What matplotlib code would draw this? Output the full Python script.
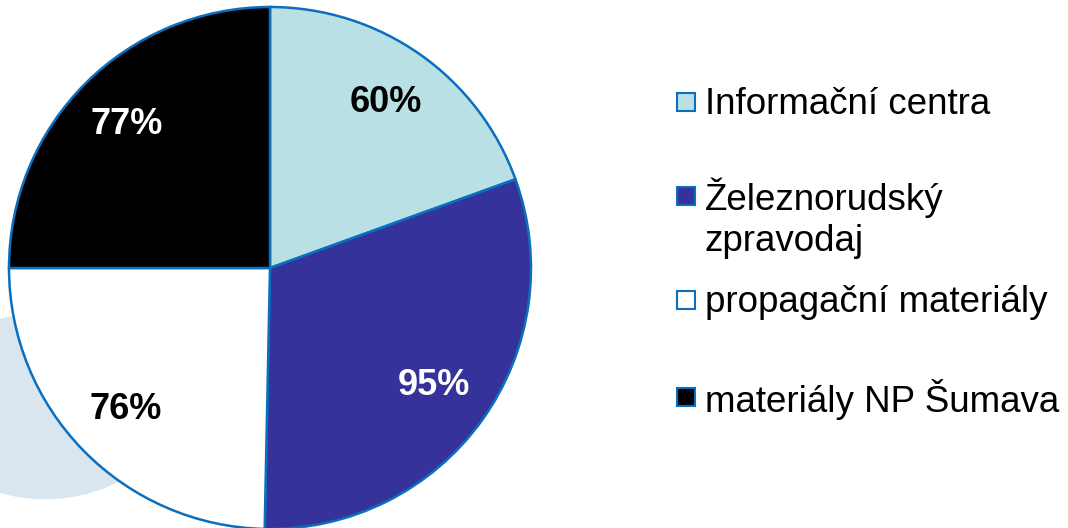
import matplotlib
matplotlib.use('Agg')
import matplotlib.pyplot as plt
from matplotlib.patches import Ellipse, Rectangle

# data
categories = ['Informační centra', 'Železnorudský\nzpravodaj',
              'propagační materiály', 'materiály NP Šumava']
values = [60, 95, 76, 77]
colors = ['#b9e0e4', '#353399', '#ffffff', '#000000']
label_colors = ['black', 'white', 'black', 'white']
edge = '#0a6fbf'

plt.rcParams['font.family'] = ['Liberation Sans', 'DejaVu Sans']

fig = plt.figure(figsize=(10.68, 5.28), dpi=100)
ax = fig.add_axes([0, 0, 1, 1])

# faint background shape behind the pie
ax.add_patch(Ellipse((45, 122), 250, 185, color='#d9e6ef', zorder=0))

wedges, texts = ax.pie(values, labels=[f'{v}%' for v in values],
                       colors=colors, startangle=90, counterclock=False,
                       center=(270, 260), radius=261, labeldistance=0.775,
                       wedgeprops=dict(edgecolor=edge, linewidth=1.8),
                       textprops=dict(fontsize=26, fontweight='bold'),
                       frame=True)
for t, c in zip(texts, label_colors):
    t.set_ha('center')
    t.set_va('center')
    t.set_color(c)
ax.set_xlim(0, 1068)
ax.set_ylim(0, 528)
ax.set_aspect('equal')
ax.axis('off')

# legend drawn by hand (uneven spacing as in the original)
leg_y = [426, 332, 228, 131]
for lab, col, y in zip(categories, colors, leg_y):
    ax.add_patch(Rectangle((677, y - 9), 18, 18, facecolor=col,
                           edgecolor=edge, linewidth=1.5, zorder=5))
    if '\n' in lab:
        ax.text(705, y + 18, lab, fontsize=26.5, va='top', ha='left',
                linespacing=1.2)
    else:
        ax.text(705, y - 2, lab, fontsize=26.5, va='center', ha='left')

fig.savefig('out.png', dpi=100)
